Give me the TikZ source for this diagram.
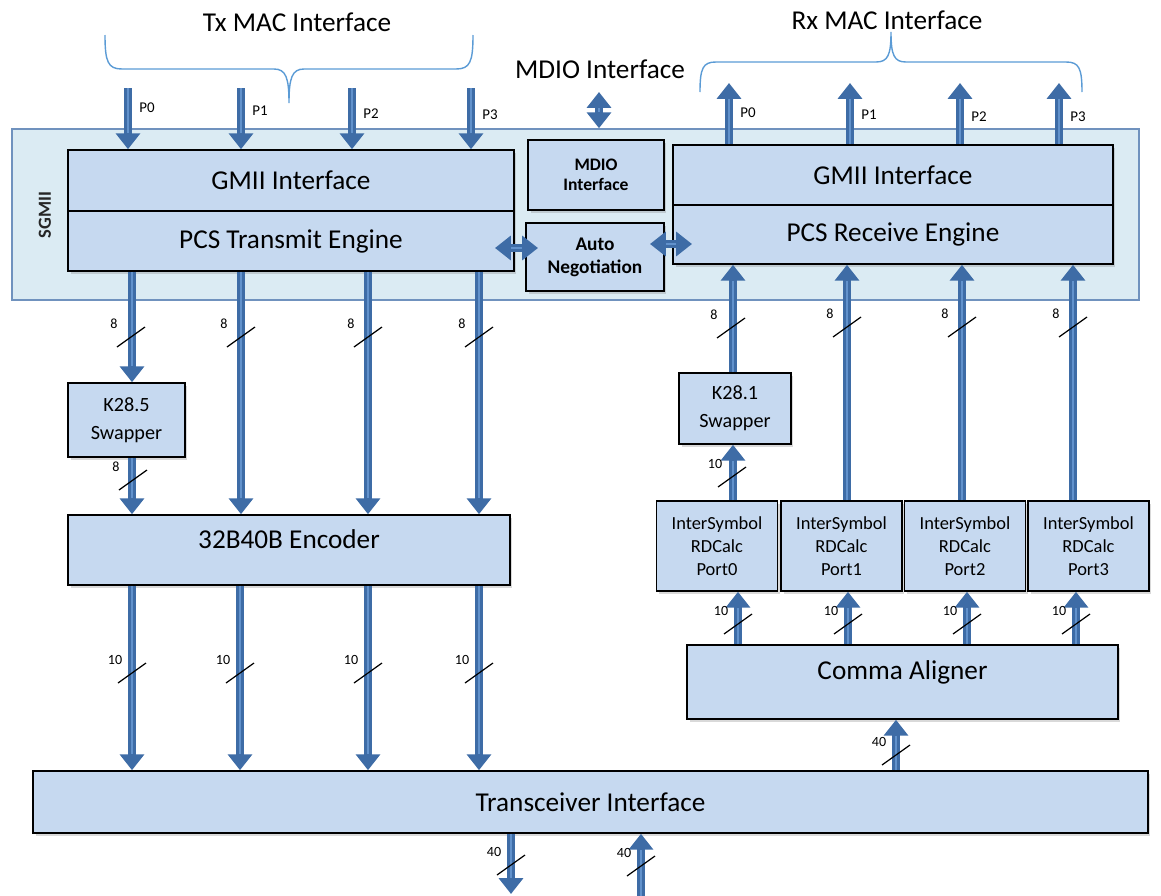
\documentclass[tikz,border=0pt]{standalone}
\usepackage{fontspec}
\setmainfont{Carlito}
\usepackage{tikz}
\usetikzlibrary{positioning, calc, arrows.meta, shadows}

\definecolor{boxblue}{RGB}{198,217,240}
\definecolor{sgmiibg}{RGB}{219,235,243}
\definecolor{sgmiiedge}{RGB}{112,146,190}
\definecolor{busblue}{RGB}{62,108,166}
\definecolor{bushl}{RGB}{98,146,204}
\definecolor{bracecol}{RGB}{91,155,213}

% bus width mark: name, centre, text
\newcommand{\busw}[3]{%
  \draw[tick] ([shift={(-14,10)}]#2) -- ([shift={(14,-10)}]#2);
  \node[wlabel] (#1) at ([shift={(-17,-13)}]#2) {#3};}

\begin{document}
\begin{tikzpicture}[x=0.02cm, y=-0.02cm,
  blk/.style={draw=black, line width=0.9pt, fill=boxblue, inner sep=0pt, align=center,
    drop shadow={shadow xshift=0.05cm, shadow yshift=-0.06cm, opacity=0.3}},
  big/.style={font=\fontsize{15.5}{18}\selectfont},
  mid/.style={font=\fontsize{11.5}{16}\selectfont},
  sml/.style={font=\fontsize{10.5}{13}\selectfont},
  sgmii/.style={draw=sgmiiedge, line width=0.9pt, fill=sgmiibg,
    minimum width=22.54cm, minimum height=3.42cm},
  bus/.style={line width=5pt, color=busblue, -{Triangle[width=13.5pt,length=9pt]},
    postaction={draw=bushl, line width=1.4pt, -, shorten >=9pt}},
  busd/.style={line width=5pt, color=busblue,
    {Triangle[width=13.5pt,length=9pt]}-{Triangle[width=13.5pt,length=9pt]},
    postaction={draw=bushl, line width=1.4pt, -, shorten >=9pt, shorten <=9pt}},
  tick/.style={draw=black, line width=0.7pt},
  wlabel/.style={font=\fontsize{8}{9}\selectfont, inner sep=0pt},
  plabel/.style={font=\fontsize{8.5}{9}\selectfont, inner sep=0pt},
  brace/.style={draw=bracecol, line width=0.8pt}]
  \useasboundingbox (0,0) rectangle (1161,896);

  % SGMII block
  \node[sgmii] (sgmii) at (575.5,214.5) {};
  \node[rotate=90, font=\bfseries\fontsize{10.5}{12}\selectfont, text=black!85] (sgmiilbl) at (45,215) {SGMII};

  % Tx side
  \node[blk, big, minimum width=8.92cm, minimum height=1.22cm] (txgmii) at (291,180.5) {GMII Interface};
  \node[blk, big, minimum width=8.92cm, minimum height=1.2cm] (txpcs) at (291,241) {PCS Transmit Engine};
  \node[blk, font=\bfseries\fontsize{10}{11.5}\selectfont, minimum width=2.72cm, minimum height=1.4cm] (mdio) at (596,175) {MDIO\\Interface};
  \node[blk, font=\bfseries\fontsize{11}{13}\selectfont, minimum width=2.76cm, minimum height=1.36cm] (auto) at (595,257) {Auto\\Negotiation};
  \node[blk, mid, minimum width=2.34cm, minimum height=1.48cm] (k285) at (126.5,420) {K28.5\\Swapper};
  \node[blk, big, text depth=12pt, minimum width=8.84cm, minimum height=1.4cm] (enc) at (289,550) {32B40B Encoder};

  % Rx side
  \node[blk, big, minimum width=8.8cm, minimum height=1.2cm] (rxgmii) at (893,175) {GMII Interface};
  \node[blk, big, minimum width=8.8cm, minimum height=1.18cm] (rxpcs) at (893,234.5) {PCS Receive Engine};
  \node[blk, mid, minimum width=2.24cm, minimum height=1.42cm] (k281) at (735,408.5) {K28.1\\Swapper};
  \foreach \i/\x in {0/717, 1/841.5, 2/965, 3/1088.5}
    \node[blk, sml, minimum width=2.42cm, minimum height=1.8cm] (is\i) at (\x,546) {InterSymbol\\RDCalc\\Port\i};
  \node[blk, big, text depth=14pt, minimum width=8.62cm, minimum height=1.48cm] (comma) at (902.5,682) {Comma Aligner};

  \node[blk, big, minimum width=22.3cm, minimum height=1.24cm] (xcvr) at (590.5,802) {Transceiver Interface};

  % titles and braces
  \node[big] (txmac) at (297,22) {Tx MAC Interface};
  \node[big] (rxmac) at (887,20) {Rx MAC Interface};
  \node[big] (mdiolbl) at (600,69) {MDIO Interface};
  \draw[brace] (105,35) .. controls (105,62) and (108,69) .. (122,69) -- (274,69)
    .. controls (286,69) and (289,78) .. (289,103) .. controls (289,78) and (292,69) .. (304,69)
    -- (456,69) .. controls (470,69) and (473,62) .. (473,35);
  \draw[brace] (700,92) .. controls (700,68) and (703,62) .. (716,62) -- (876,62)
    .. controls (888,62) and (891,55) .. (891,32) .. controls (891,55) and (894,62) .. (906,62)
    -- (1066,62) .. controls (1079,62) and (1082,68) .. (1082,92);

  % Tx ports in
  \foreach \i/\x/\ly in {0/128/108, 1/241/111, 2/352/114, 3/471/115} {
    \coordinate (txin\i) at (\x,88);
    \draw[bus] (txin\i) -- (txin\i |- txgmii.north);
    \node[plabel] (txp\i) at (\x+19,\ly) {P\i};
  }

  % Rx ports out
  \foreach \i/\x/\ly in {0/729/113, 1/850/115, 2/960/117, 3/1059/117} {
    \coordinate (rxout\i) at (\x,83);
    \draw[bus] (rxout\i |- rxgmii.north) -- (rxout\i);
    \node[plabel] (rxp\i) at (\x+19,\ly) {P\i};
  }

  % MDIO and auto negotiation
  \coordinate (mdiotop) at (599,92);
  \draw[busd] (mdiotop) -- (mdiotop |- sgmii.north);
  \coordinate (anl1) at (495,248);
  \coordinate (anl2) at (538,248);
  \draw[busd] (anl1) -- (anl2);
  \coordinate (anr1) at (650,244);
  \coordinate (anr2) at (692,244);
  \draw[busd] (anr1) -- (anr2);

  % Tx data path
  \coordinate (tx0) at (132,0);
  \draw[bus] (tx0 |- txpcs.south) -- (tx0 |- k285.north);
  \draw[bus] (tx0 |- k285.south) -- (tx0 |- enc.north);
  \busw{w8a}{131,337}{8}
  \busw{w8b}{133,480}{8}
  \foreach \i/\x in {1/241, 2/368, 3/479} {
    \coordinate (tx\i) at (\x,0);
    \draw[bus] (tx\i |- txpcs.south) -- (tx\i |- enc.north);
    \busw{w8t\i}{\x,337}{8}
  }
  \foreach \i/\x in {0/132, 1/240, 2/368, 3/479} {
    \coordinate (enc\i) at (\x,0);
    \draw[bus] (enc\i |- enc.south) -- (enc\i |- xcvr.north);
    \busw{w10t\i}{\x,673}{10}
  }

  % Rx data path
  \coordinate (rx0) at (733,0);
  \draw[bus] (rx0 |- is0.north) -- (rx0 |- k281.south);
  \draw[bus] (rx0 |- k281.north) -- (rx0 |- rxpcs.south);
  \busw{w10r}{732,477}{10}
  \busw{w8r0}{731,328}{8}
  \foreach \i/\x in {1/847, 2/962, 3/1073} {
    \coordinate (rx\i) at (\x,0);
    \draw[bus] (rx\i |- is\i.north) -- (rx\i |- rxpcs.south);
    \busw{w8r\i}{\x,327}{8}
  }
  \foreach \i/\x in {0/738, 1/848, 2/967, 3/1076} {
    \coordinate (ca\i) at (\x,0);
    \draw[bus] (ca\i |- comma.north) -- (ca\i |- is\i.south);
    \busw{w10r\i}{\x,624}{10}
  }

  % transceiver links
  \coordinate (c40) at (896,0);
  \draw[bus] (c40 |- xcvr.north) -- (c40 |- comma.south);
  \busw{w40c}{896,755}{40}
  \coordinate (xout) at (511,894);
  \draw[bus] (xout |- xcvr.south) -- (xout);
  \busw{w40o}{511,865}{40}
  \coordinate (xin) at (641,896);
  \draw[bus] (xin) -- (xin |- xcvr.south);
  \busw{w40i}{641,866}{40}
\end{tikzpicture}
\end{document}
